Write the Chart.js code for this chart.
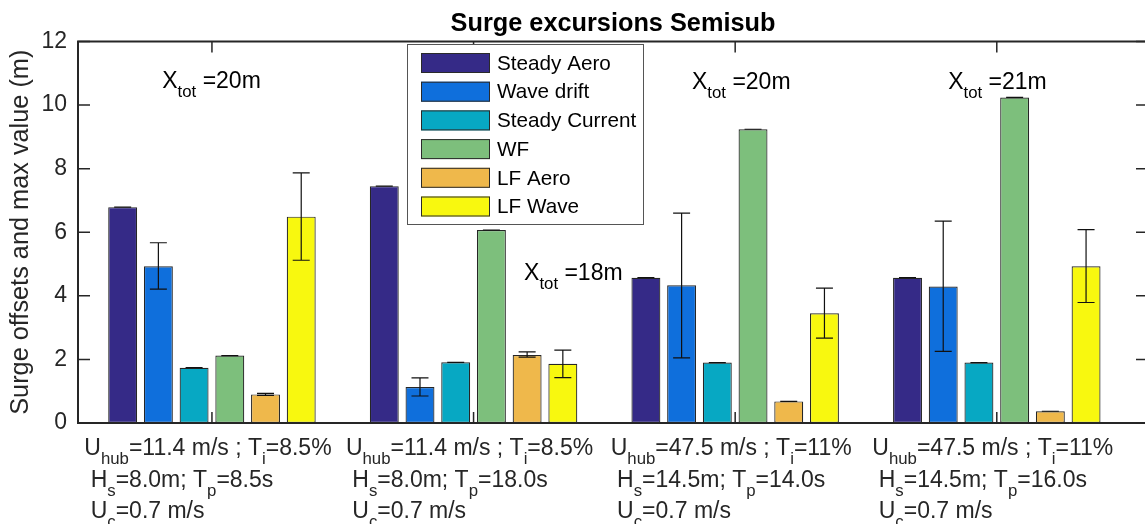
<!DOCTYPE html>
<html><head><meta charset="utf-8">
<script src="https://cdn.jsdelivr.net/npm/chart.js@4/dist/chart.umd.min.js"></script>
<style>html,body{margin:0;padding:0;background:#fff;overflow:hidden;width:1145px;height:524px}canvas{display:block}</style>
</head><body>
<canvas id="c" width="1150" height="524"></canvas>
<script>
// ---- data ----
const caseIds = [1, 2, 3, 4];
const uHub = [11.4, 11.4, 47.5, 47.5];
const turbInt = ['8.5%', '8.5%', '11%', '11%'];
const hs = [8.0, 8.0, 14.5, 14.5];
const tp = [8.5, 18.0, 14.0, 16.0];
const uc = [0.7, 0.7, 0.7, 0.7];
const xTot = ['20m', '18m', '20m', '21m'];
const seriesNames = ['Steady Aero', 'Wave drift', 'Steady Current', 'WF', 'LF Aero', 'LF Wave'];
const steadyAero = [6.79, 7.45, 4.57, 4.57];
const waveDrift = [4.93, 1.13, 4.33, 4.29];
const steadyCurrent = [1.74, 1.91, 1.90, 1.90];
const wf = [2.12, 6.07, 9.24, 10.24];
const lfAero = [0.90, 2.14, 0.68, 0.37];
const lfWave = [6.49, 1.86, 3.45, 4.93];
const waveDriftLo = [4.21, 0.85, 2.05, 2.25];
const waveDriftHi = [5.67, 1.42, 6.60, 6.35];
const lfAeroLo = [0.87, 2.07, 0.68, 0.37];
const lfAeroHi = [0.93, 2.24, 0.68, 0.37];
const lfWaveLo = [5.12, 1.43, 2.67, 3.79];
const lfWaveHi = [7.87, 2.29, 4.24, 6.08];
const yTicks = [0, 2, 4, 6, 8, 10, 12];
const chartTitle = 'Surge excursions Semisub';

// ---- styling ----
const FONT = '"Liberation Sans", Arial, Helvetica, sans-serif';
const INK = '#262626';
const colors = ['#352a87', '#0f6fdc', '#07a8c3', '#7dbf7c', '#efb84b', '#f8f80f'];
const seriesValues = [steadyAero, waveDrift, steadyCurrent, wf, lfAero, lfWave];
const errors = [
  {lo: steadyAero, hi: steadyAero},
  {lo: waveDriftLo, hi: waveDriftHi},
  {lo: steadyCurrent, hi: steadyCurrent},
  {lo: wf, hi: wf},
  {lo: lfAeroLo, hi: lfAeroHi},
  {lo: lfWaveLo, hi: lfWaveHi}
];

const datasets = seriesNames.map((name, s) => ({
  label: name,
  data: caseIds.map((c, i) => ({x: c, y: seriesValues[s][i]})),
  backgroundColor: colors[s],
  borderColor: '#262626',
  borderWidth: 1.2,
  borderSkipped: false,
  categoryPercentage: 0.819,
  barPercentage: 0.81
}));

function drawRich(ctx, segs, x, base, size) {
  let cx = x;
  for (const s of segs) {
    const fs = s.sub ? size * 0.73 : size;
    ctx.font = fs + 'px ' + FONT;
    ctx.fillText(s.t, cx, s.sub ? base + 9 : base);
    cx += ctx.measureText(s.t).width;
  }
  return cx - x;
}
function richWidth(ctx, segs, size) {
  let w = 0;
  for (const s of segs) {
    ctx.font = (s.sub ? size * 0.73 : size) + 'px ' + FONT;
    w += ctx.measureText(s.t).width;
  }
  return w;
}

const decoPlugin = {
  id: 'deco',
  afterDatasetsDraw(chart) {
    const {ctx, chartArea: a, scales: {x, y}} = chart;
    ctx.save();
    // error bars
    ctx.strokeStyle = '#111';
    ctx.lineWidth = 1.2;
    errors.forEach((e, s) => {
      const meta = chart.getDatasetMeta(s);
      meta.data.forEach((bar, i) => {
        const px = bar.x;
        const yl = y.getPixelForValue(e.lo[i]);
        const yh = y.getPixelForValue(e.hi[i]);
        ctx.beginPath();
        ctx.moveTo(px, yl); ctx.lineTo(px, yh);
        ctx.moveTo(px - 8.5, yl); ctx.lineTo(px + 8.5, yl);
        ctx.moveTo(px - 8.5, yh); ctx.lineTo(px + 8.5, yh);
        ctx.stroke();
      });
    });
    // frame
    ctx.strokeStyle = INK;
    ctx.lineWidth = 2;
    ctx.strokeRect(a.left, a.top, a.right - a.left, a.bottom - a.top);
    // inward ticks
    ctx.lineWidth = 1.5;
    ctx.beginPath();
    yTicks.forEach(v => {
      const py = y.getPixelForValue(v);
      ctx.moveTo(a.left, py); ctx.lineTo(a.left + 12, py);
      ctx.moveTo(a.right - 12, py); ctx.lineTo(a.right, py);
    });
    caseIds.forEach(c => {
      const px = x.getPixelForValue(c);
      ctx.moveTo(px, a.bottom); ctx.lineTo(px, a.bottom - 11);
      ctx.moveTo(px, a.top); ctx.lineTo(px, a.top + 11);
    });
    ctx.stroke();

    // title centred over the plot area
    ctx.fillStyle = '#000';
    ctx.textAlign = 'center';
    ctx.textBaseline = 'alphabetic';
    ctx.font = 'bold 25.3px ' + FONT;
    ctx.fillText(chartTitle, (a.left + a.right) / 2, 31);

    // x tick labels (multi-line with subscripts)
    ctx.fillStyle = INK;
    ctx.textAlign = 'left';
    const size = 23;
    caseIds.forEach((c, i) => {
      const lines = [
        [{t: 'U'}, {t: 'hub', sub: 1}, {t: '=' + uHub[i].toFixed(1) + ' m/s ; T'}, {t: 'i', sub: 1}, {t: '=' + turbInt[i]}],
        [{t: ' H'}, {t: 's', sub: 1}, {t: '=' + hs[i].toFixed(1) + 'm; T'}, {t: 'p', sub: 1}, {t: '=' + tp[i].toFixed(1) + 's'}],
        [{t: ' U'}, {t: 'c', sub: 1}, {t: '=' + uc[i] + ' m/s'}]
      ];
      const w = Math.max(...lines.map(l => richWidth(ctx, l, size)));
      const left = x.getPixelForValue(c) - 4 - w / 2;
      lines.forEach((l, k) => drawRich(ctx, l, left, a.bottom + 32 + k * 31.5, size));
    });

    // X_tot annotations
    const annPos = [{x: 0.81, y: 10.55}, {x: 2.193, y: 4.50}, {x: 2.835, y: 10.52}, {x: 3.814, y: 10.52}];
    ctx.fillStyle = '#000';
    xTot.forEach((t, i) => {
      drawRich(ctx, [{t: 'X'}, {t: 'tot', sub: 1}, {t: ' =' + t}],
        x.getPixelForValue(annPos[i].x), y.getPixelForValue(annPos[i].y), 23);
    });

    // legend
    const L = {x: 407, y: 44, w: 236, h: 180};
    ctx.fillStyle = '#fff';
    ctx.fillRect(L.x, L.y, L.w, L.h);
    ctx.strokeStyle = '#555';
    ctx.lineWidth = 1;
    ctx.strokeRect(L.x + 0.5, L.y + 0.5, L.w, L.h);
    ctx.font = '20.7px ' + FONT;
    ctx.textBaseline = 'middle';
    seriesNames.forEach((n, s) => {
      const cy = 63 + s * 28.7;
      ctx.fillStyle = colors[s];
      ctx.fillRect(421, cy - 10, 69, 20);
      ctx.strokeStyle = '#2a2a2a';
      ctx.strokeRect(421.5, cy - 9.5, 68, 19);
      ctx.fillStyle = '#000';
      ctx.fillText(n, 497, cy + 1);
    });
    ctx.restore();
  }
};

new Chart(document.getElementById('c'), {
  type: 'bar',
  data: {datasets},
  options: {
    responsive: false,
    animation: false,
    devicePixelRatio: 1,
    layout: {padding: {left: 0, right: 2, top: 41.5, bottom: 0}},
    plugins: {
      legend: {display: false},
      tooltip: {enabled: false},
      title: {display: false}
    },
    scales: {
      x: {
        type: 'linear',
        min: 0.488, max: 4.578,
        offset: false,
        ticks: {display: false, stepSize: 1},
        grid: {display: false, offset: false, drawTicks: false},
        border: {display: false},
        afterBuildTicks(s) { s.ticks = caseIds.map(v => ({value: v})); },
        afterFit(s) { s.height = 101; }
      },
      y: {
        min: 0, max: 12,
        ticks: {stepSize: 2, color: INK, font: {family: FONT, size: 23}, padding: 11},
        grid: {display: false, drawTicks: false},
        border: {display: false},
        title: {display: true, text: 'Surge offsets and max value (m)', color: INK,
                font: {family: FONT, size: 25.3}, padding: {top: 6, bottom: 0}},
        afterFit(s) { s.width = 78; }
      }
    }
  },
  plugins: [decoPlugin]
});
</script>
</body></html>
